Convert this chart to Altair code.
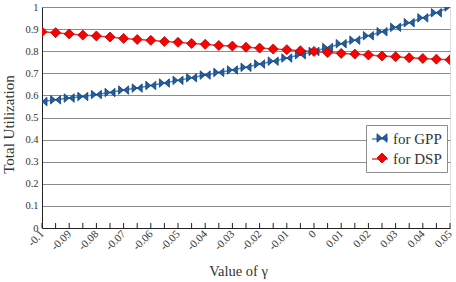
import altair as alt
import pandas as pd

gamma = [-0.1, -0.095, -0.09, -0.085, -0.08, -0.075, -0.07, -0.065, -0.06, -0.055,
         -0.05, -0.045, -0.04, -0.035, -0.03, -0.025, -0.02, -0.015, -0.01, -0.005,
         0.0, 0.005, 0.01, 0.015, 0.02, 0.025, 0.03, 0.035, 0.04, 0.045, 0.05]
gpp = [0.572, 0.580, 0.588, 0.595, 0.604, 0.613, 0.624, 0.633, 0.645, 0.656,
       0.668, 0.680, 0.692, 0.704, 0.715, 0.727, 0.742, 0.755, 0.769, 0.784,
       0.799, 0.817, 0.834, 0.850, 0.870, 0.888, 0.908, 0.929, 0.951, 0.974, 1.0]
dsp = [0.888, 0.884, 0.878, 0.873, 0.869, 0.864, 0.858, 0.853, 0.849, 0.844,
       0.840, 0.835, 0.831, 0.826, 0.823, 0.818, 0.814, 0.810, 0.807, 0.802,
       0.799, 0.794, 0.790, 0.787, 0.783, 0.778, 0.775, 0.770, 0.767, 0.764, 0.761]
series_names = ["for GPP", "for DSP"]
series_keys = ["GPP", "DSP"]
x_label_values = [-0.1, -0.09, -0.08, -0.07, -0.06, -0.05, -0.04, -0.03, -0.02, -0.01,
                  0, 0.01, 0.02, 0.03, 0.04, 0.05]
y_tick_values = [0, 0.1, 0.2, 0.3, 0.4, 0.5, 0.6, 0.7, 0.8, 0.9, 1]

rows = []
for name, key, vals in zip(series_names, series_keys, [gpp, dsp]):
    for g, v in zip(gamma, vals):
        rows.append({"gamma": g, "util": v, "series": name, "key": key})
df = pd.DataFrame(rows)
tick_df = pd.DataFrame({"gamma": gamma})

FONT = "Liberation Serif, Times New Roman, serif"
TXT = "#333333"
LINE_COLORS = ["#4a8ad0", "#e63c3c"]
FILL_COLORS = ["#1f5fa6", "#ff0000"]
EDGE_COLORS = ["#163f70", "#a80000"]
BOWTIE = "M-1,-0.85L1,0.85L1,-0.85L-1,0.85Z"

xscale = alt.Scale(domain=[-0.1, 0.05], nice=False, zero=False)
yscale = alt.Scale(domain=[0, 1], nice=False, zero=True)

x_axis = alt.Axis(
    values=x_label_values,
    labelExpr="replace(format(datum.value, '.2~f'), '\u2212', '-')",
    labelAngle=315, labelAlign="right", labelBaseline="middle",
    labelPadding=4, labelFontSize=11, labelFont=FONT, labelColor=TXT,
    labelOverlap=False, labelFlush=False,
    ticks=False, grid=False, domainColor="#222222", domainWidth=1,
    title="Value of γ", titleFont=FONT, titleFontSize=14.5, titleFontWeight="normal",
    titleColor=TXT, titleX=196, titleY=43, titleAlign="center", titleBaseline="middle",
)
y_axis = alt.Axis(
    values=y_tick_values,
    labelExpr="format(datum.value, '.1~f')",
    labelFontSize=10.5, labelFont=FONT, labelColor=TXT, labelPadding=4,
    ticks=False, grid=True, gridColor="#8c8c8c", gridWidth=1,
    domainColor="#222222", domainWidth=1,
    title="Total Utilization", titleFont=FONT, titleFontSize=15,
    titleFontWeight="normal", titleColor=TXT, titleX=-34, titleY=117,
    titleAlign="center", titleBaseline="middle",
)

line_legend = alt.Legend(
    title=None, orient="none", legendX=324, legendY=118,
    padding=5, strokeColor="#8c8c8c", fillColor="white",
    labelFont=FONT, labelFontSize=15, labelColor=TXT, labelOffset=4,
    symbolType="stroke", symbolSize=256, symbolStrokeWidth=1.5, rowPadding=3,
    zindex=1,
)
point_legend = alt.Legend(
    title=None, orient="none", legendX=324, legendY=118.5,
    padding=5, strokeColor="transparent",
    labelFont=FONT, labelFontSize=15, labelExpr="''", labelOffset=4,
    symbolSize=100, symbolStrokeWidth=0.8, symbolOffset=3.5, rowPadding=4,
    zindex=2,
)

base = alt.Chart(df)

lines = base.mark_line(strokeWidth=1.5, clip=True).encode(
    x=alt.X("gamma:Q", scale=xscale, axis=x_axis),
    y=alt.Y("util:Q", scale=yscale, axis=y_axis),
    color=alt.Color("series:N",
                    scale=alt.Scale(domain=series_names, range=LINE_COLORS),
                    legend=line_legend),
)

points = base.mark_point(filled=True, size=100, strokeWidth=0.8, opacity=1, clip=True).encode(
    x=alt.X("gamma:Q", scale=xscale, axis=x_axis),
    y=alt.Y("util:Q", scale=yscale, axis=y_axis),
    shape=alt.Shape("key:N", scale=alt.Scale(domain=series_keys, range=[BOWTIE, "diamond"]),
                    legend=point_legend),
    fill=alt.Fill("key:N", scale=alt.Scale(domain=series_keys, range=FILL_COLORS),
                  legend=point_legend),
    stroke=alt.Stroke("key:N", scale=alt.Scale(domain=series_keys, range=EDGE_COLORS),
                      legend=point_legend),
)

ticks = alt.Chart(tick_df).mark_rule(color="#222222", strokeWidth=1).encode(
    x=alt.X("gamma:Q", scale=xscale, axis=x_axis),
    y=alt.value(216),
    y2=alt.value(221),
)

chart = alt.layer(lines, points, ticks).properties(
    width=408, height=221,
    autosize=alt.AutoSizeParams(type="none"),
    padding={"left": 42, "top": 7, "right": 6, "bottom": 54},
).configure_view(stroke="#8c8c8c", strokeWidth=1).configure(background="white")

chart.save("out.html", embed_options={"renderer": "svg", "actions": False})
